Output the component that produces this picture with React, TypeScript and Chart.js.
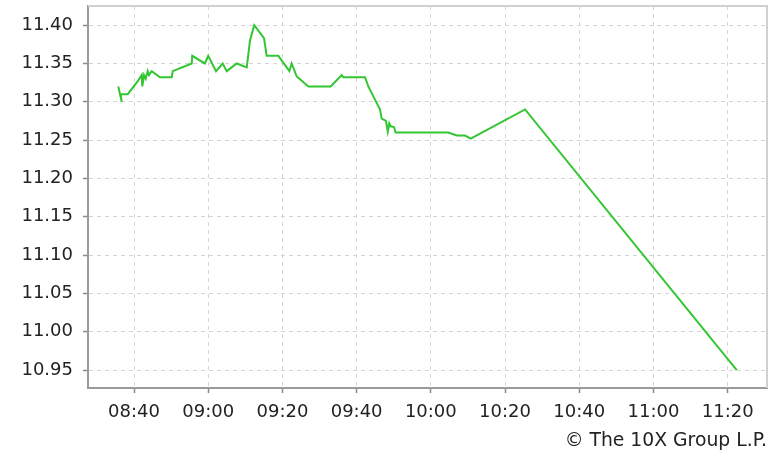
import { useEffect, useRef } from "react";
import { Chart, registerables } from "chart.js";

Chart.register(...registerables);

// Trade times (HH:MM:SS) and prices
const times = [
  "08:35:46", "08:36:41", "08:36:24", "08:38:18", "08:41:10", "08:42:05", "08:42:14",
  "08:42:42", "08:43:09", "08:43:42", "08:44:02", "08:44:46", "08:47:00", "08:50:10",
  "08:50:26", "08:55:33", "08:55:42", "08:59:06", "09:00:00", "09:02:06", "09:03:54",
  "09:05:00", "09:07:41", "09:10:23", "09:11:16", "09:12:24", "09:15:02", "09:15:46",
  "09:18:54", "09:21:52", "09:22:30", "09:23:51", "09:27:00", "09:33:00", "09:35:59",
  "09:36:24", "09:42:16", "09:43:09", "09:46:18", "09:46:46", "09:47:54", "09:48:24",
  "09:48:48", "09:49:12", "09:50:05", "09:50:30", "10:04:42", "10:06:59", "10:09:12",
  "10:10:45", "10:25:24", "11:22:27",
];
const prices = [
  11.32, 11.3, 11.31, 11.31, 11.328, 11.335, 11.32,
  11.335, 11.33, 11.34, 11.335, 11.34, 11.332, 11.332,
  11.34, 11.35, 11.36, 11.35, 11.36, 11.34, 11.35,
  11.34, 11.35, 11.345, 11.38, 11.4, 11.383, 11.36,
  11.36, 11.34, 11.35, 11.333, 11.32, 11.32, 11.335,
  11.332, 11.332, 11.32, 11.29, 11.278, 11.275, 11.261,
  11.272, 11.268, 11.267, 11.26, 11.26, 11.256, 11.256,
  11.252, 11.29, 10.95,
];
const xTickLabels = ["08:40", "09:00", "09:20", "09:40", "10:00", "10:20", "10:40", "11:00", "11:20"];
const yTickValues = [10.95, 11.0, 11.05, 11.1, 11.15, 11.2, 11.25, 11.3, 11.35, 11.4];
const xRange = ["08:27:36", "11:30:36"];
const yRange = [10.9265, 11.425];
const copyright = "© The 10X Group L.P.";

const toMin = (s: string) => {
  const [h, m, sec] = s.split(":").map(Number);
  return h * 60 + m + (sec || 0) / 60;
};
const fmt = (v: number) => {
  const h = Math.floor(v / 60);
  const m = Math.round(v - h * 60);
  return String(h).padStart(2, "0") + ":" + String(m).padStart(2, "0");
};

const FONT = { family: "'DejaVu Sans', sans-serif", size: 18 };
const TEXT = "#222222";

const framePlugin = {
  id: "frame",
  beforeDatasetsDraw(chart: any) {
    const { ctx, chartArea } = chart;
    const { left, top, right, bottom } = chartArea;
    ctx.save();
    ctx.strokeStyle = "#d0d0d0";
    ctx.lineWidth = 2;
    ctx.beginPath();
    ctx.moveTo(left, top);
    ctx.lineTo(right, top);
    ctx.lineTo(right, bottom);
    ctx.stroke();
    ctx.restore();
  },
};

export default function App() {
  const ref = useRef<HTMLCanvasElement | null>(null);
  useEffect(() => {
    if (!ref.current) return;
    const data = times.map((t, i) => ({ x: toMin(t), y: prices[i] }));
    const chart = new Chart(ref.current, {
      type: "line",
      data: {
        datasets: [
          {
            data,
            borderColor: "#33c633",
            borderWidth: 2,
            pointRadius: 0,
            tension: 0,
            fill: false,
          },
        ],
      },
      plugins: [framePlugin],
      options: {
        animation: false,
        responsive: false,
        events: [],
        layout: { padding: { left: 0, right: 9, top: 6, bottom: 0 } },
        plugins: {
          legend: { display: false },
          tooltip: { enabled: false },
          title: {
            display: true,
            text: copyright,
            position: "bottom",
            align: "end",
            color: TEXT,
            font: { family: FONT.family, size: 18.8, weight: "normal" },
            padding: { top: 0, bottom: 4.5 },
          },
        },
        scales: {
          x: {
            type: "linear",
            min: toMin(xRange[0]),
            max: toMin(xRange[1]),
            afterBuildTicks: (s: any) => {
              s.ticks = xTickLabels.map((l) => ({ value: toMin(l) }));
            },
            afterFit: (s: any) => {
              s.height = 41.9;
              s.paddingLeft = 0;
              s.paddingRight = 0;
            },
            ticks: {
              autoSkip: false,
              maxRotation: 0,
              padding: 8,
              color: TEXT,
              font: FONT,
              callback: (v: any) => fmt(Number(v)),
            },
            grid: {
              color: "#d6d6d6",
              lineWidth: 1,
              tickLength: 5,
              tickColor: "#8a8a8a",
              tickWidth: 1.5,
              tickBorderDash: [],
            },
            border: { color: "#9a9a9a", width: 2, dash: [4, 4] },
          },
          y: {
            type: "linear",
            min: yRange[0],
            max: yRange[1],
            afterBuildTicks: (s: any) => {
              s.ticks = yTickValues.map((v) => ({ value: v }));
            },
            afterFit: (s: any) => {
              s.width = 88;
              s.paddingTop = 0;
              s.paddingBottom = 0;
            },
            ticks: {
              padding: 10,
              color: TEXT,
              font: FONT,
              callback: (v: any) => Number(v).toFixed(2),
            },
            grid: {
              color: "#d6d6d6",
              lineWidth: 1,
              tickLength: 5,
              tickColor: "#8a8a8a",
              tickWidth: 1.5,
              tickBorderDash: [],
            },
            border: { color: "#9a9a9a", width: 2, dash: [4, 4] },
          },
        },
      } as any,
    });
    return () => chart.destroy();
  }, []);
  return (
    <div style={{ position: "absolute", left: 0, top: 0, width: 776, height: 457, background: "#fff" }}>
      <canvas ref={ref} width={776} height={457} />
    </div>
  );
}
